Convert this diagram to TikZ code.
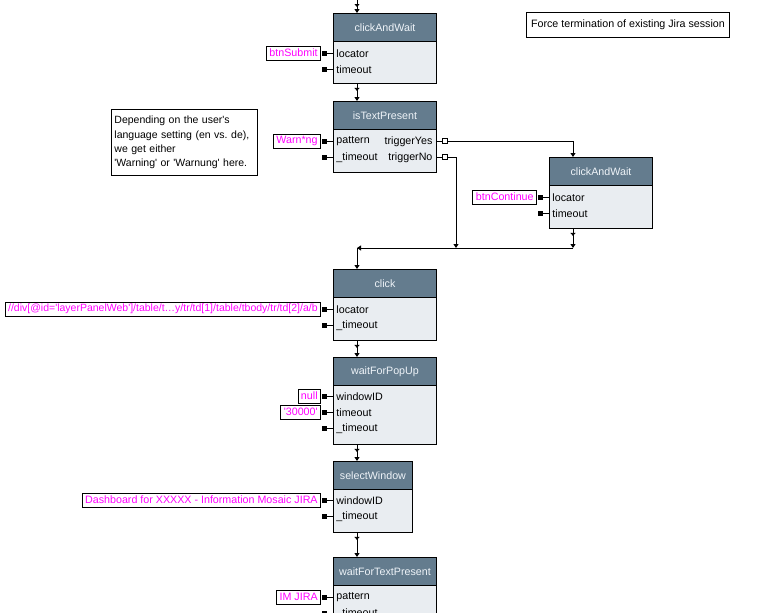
\documentclass[tikz,border=0pt]{standalone}
\usepackage{fontspec}
\setmainfont{Liberation Sans}
\usetikzlibrary{arrows.meta,decorations.markings}
\definecolor{headfill}{HTML}{647C8E}
\definecolor{bodyfill}{HTML}{E9EDF1}
\definecolor{headtext}{HTML}{EEF3F8}
\definecolor{valtext}{HTML}{FF00FF}
\newcommand{\sq}{\textquotesingle}

\begin{document}
\begin{tikzpicture}[x=1pt,y=-1pt,line width=0.9pt,
	every node/.style={font=\fontsize{10.7}{14.3}\selectfont},
	taskbox/.style={draw,fill=bodyfill,anchor=north west,inner sep=0pt},
	taskhead/.style={draw,fill=headfill,text=headtext,anchor=north west,inner sep=0pt,minimum height=28pt},
	param/.style={anchor=west,inner sep=0pt},
	outparam/.style={anchor=east,inner sep=0pt},
	value/.style={draw,fill=white,text=valtext,anchor=east,inner xsep=3pt,inner ysep=0pt,minimum height=14pt},
	inport/.style={fill=black,inner sep=0pt,minimum size=5pt,anchor=east},
	outport/.style={draw,fill=white,inner sep=0pt,minimum size=4.5pt,line width=0.7pt,anchor=west},
	note/.style={draw,fill=white,anchor=north west,inner sep=3pt},
	flow/.style={-{Triangle[width=5pt,length=4pt]}},
	tick/.style={postaction={decorate},decoration={markings,
		mark=at position 7pt with {\arrow{Triangle[width=5pt,length=3pt]}}}}]
	\useasboundingbox (0,0) rectangle (769,613);
	\newcommand{\taskblock}[6]{% name, left, top, width, height, title
		\node[taskbox,minimum width=#4pt,minimum height=#5pt] (#1) at (#2,#3) {};
		\node[taskhead,minimum width=#4pt] (#1-head) at (#2,#3) {#6};
	}
	\newcommand{\inpin}[4]{% task, pin, row, text
		\coordinate (#1-#2-edge) at (#1.west |- 0,#3);
		\node[param,xshift=3pt,yshift=-0.5pt] (#1-#2) at (#1-#2-edge) {#4};
		\node[inport,xshift=-6pt] (#1-#2-pin) at (#1-#2-edge) {};
		\draw (#1-#2-pin) -- (#1-#2-edge);
	}
	\newcommand{\outpin}[4]{% task, pin, row, text
		\coordinate (#1-#2-edge) at (#1.east |- 0,#3);
		\node[outparam,xshift=-4pt,yshift=-0.5pt] (#1-#2) at (#1-#2-edge) {#4};
		\node[outport,xshift=5.5pt] (#1-#2-pin) at (#1-#2-edge) {};
		\draw (#1-#2-edge) -- (#1-#2-pin);
	}

	% tasks
	\taskblock{cwa}{333}{13}{103}{70}{clickAndWait}
	\foreach \pn/\py/\ptxt in {loc/53/locator,tmo/69/timeout}
		\inpin{cwa}{\pn}{\py}{\ptxt};

	\taskblock{itp}{333}{101}{103}{71}{isTextPresent}
	\foreach \pn/\py/\ptxt in {pat/141/pattern,tmo/157/\_timeout}
		\inpin{itp}{\pn}{\py}{\ptxt};
	\outpin{itp}{yes}{141}{triggerYes}
	\outpin{itp}{no}{157}{triggerNo}

	\taskblock{cwb}{549}{157}{103}{71}{clickAndWait}
	\foreach \pn/\py/\ptxt in {loc/197/locator,tmo/213/timeout}
		\inpin{cwb}{\pn}{\py}{\ptxt};

	\taskblock{clk}{333}{269}{103}{71}{click}
	\foreach \pn/\py/\ptxt in {loc/309/locator,tmo/325/\_timeout}
		\inpin{clk}{\pn}{\py}{\ptxt};

	\taskblock{wfp}{333}{357}{103}{87}{waitForPopUp}
	\foreach \pn/\py/\ptxt in {win/396/windowID,tim/412/timeout,tmo/428/\_timeout}
		\inpin{wfp}{\pn}{\py}{\ptxt};

	\taskblock{sw}{333}{461}{79}{71}{selectWindow}
	\foreach \pn/\py/\ptxt in {win/500/windowID,tmo/516/\_timeout}
		\inpin{sw}{\pn}{\py}{\ptxt};

	\taskblock{wftp}{333}{557}{103}{71}{waitForTextPresent}
	\foreach \pn/\py/\ptxt in {pat/597/pattern,tmo/613/\_timeout}
		\inpin{wftp}{\pn}{\py}{\ptxt};

	% values
	\node[value] (cwa-loc-val) at (cwa-loc-pin.west) {btnSubmit};
	\node[value] (itp-pat-val) at (itp-pat-pin.west) {Warn*ng};
	\node[value] (cwb-loc-val) at (cwb-loc-pin.west) {btnContinue};
	\node[value,font=\fontsize{10.5}{14.3}\selectfont] (clk-loc-val) at (clk-loc-pin.west)
		{//div[@id=\sq layerPanelWeb\sq]/table/t\ldots y/tr/td[1]/table/tbody/tr/td[2]/a/b};
	\node[value] (wfp-win-val) at (wfp-win-pin.west) {null};
	\node[value] (wfp-tim-val) at (wfp-tim-pin.west) {\sq 30000\sq};
	\node[value] (sw-win-val) at (sw-win-pin.west) {Dashboard for XXXXX - Information Mosaic JIRA};
	\node[value] (wftp-pat-val) at (wftp-pat-pin.west) {IM JIRA};

	% notes
	\node[note,minimum width=203pt,minimum height=25pt] (forcenote) at (526,12)
		{Force termination of existing Jira session};
	\node[note,align=left,text width=140pt,minimum height=66pt,
		font=\fontsize{10.5}{14.3}\selectfont] (langnote) at (111,109)
		{Depending on the user\sq s\\language setting (en vs.\ de),\\we get either\\
		\sq Warning\sq{} or \sq Warnung\sq{} here.};

	% flow
	\coordinate (main) at (357,0);
	\coordinate (side) at (573,0);
	\coordinate (join) at (357,248);
	\coordinate (joinno) at (456,248);
	\draw[flow,tick] (main) -- (main |- cwa.north);
	\draw[flow,tick] (main |- cwa.south) -- (main |- itp.north);
	\draw[flow] (itp-yes-pin.east) -| (side |- cwb.north);
	\draw[flow] (itp-no-pin.east) -| (joinno);
	\draw[flow,tick] (side |- cwb.south) -- (side |- join);
	\draw[flow] (side |- join) -- (join);
	\draw[flow] (join) -- (main |- clk.north);
	\draw[flow,tick] (main |- clk.south) -- (main |- wfp.north);
	\draw[flow,tick] (main |- wfp.south) -- (main |- sw.north);
	\draw[flow,tick] (main |- sw.south) -- (main |- wftp.north);
\end{tikzpicture}
\end{document}
